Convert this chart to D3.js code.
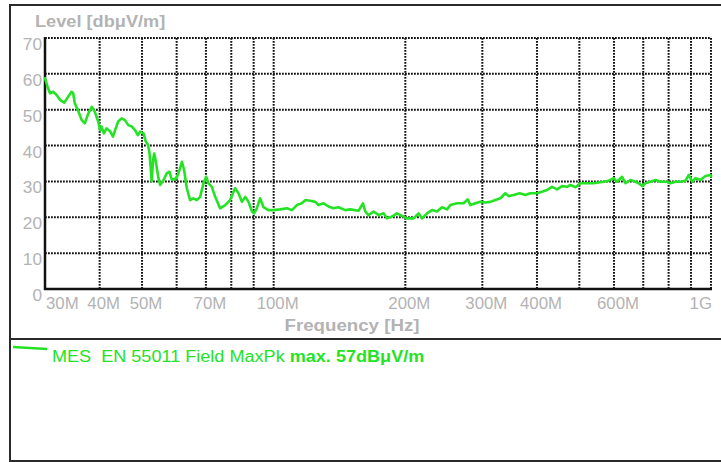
<!DOCTYPE html>
<html><head><meta charset="utf-8">
<script src="https://cdn.jsdelivr.net/npm/d3@7/dist/d3.min.js"></script>
<style>
html,body{margin:0;padding:0;background:#fff;}
svg{display:block;font-family:"Liberation Sans",Arial,Helvetica,sans-serif;}
</style></head>
<body>
<svg id="chart" width="721" height="462"></svg>
<script>
// ---- data ----
const freqMHz = [
 30.0,30.4,30.8,31.3,31.9,32.5,33.2,33.9,34.5,34.8,35.1,35.8,36.4,37.0,37.7,38.4,39.0,39.7,
 40.1,40.4,40.9,41.5,42.3,42.9,43.4,44.1,44.9,45.7,46.5,47.4,48.2,48.9,49.5,50.4,51.0,51.6,
 52.0,52.4,52.6,53.0,53.3,53.7,54.0,54.5,55.0,56.0,57.0,57.8,58.5,60.0,61.1,61.7,62.4,63.3,
 64.4,65.5,66.7,67.9,69.1,70.1,70.9,72.2,73.5,75.4,77.5,79.5,81.6,83.1,84.6,86.1,87.6,89.2,
 90.2,91.5,93.1,94.8,97.3,99.9,103.5,107.2,110.1,113.0,116.0,118.1,121.2,124.5,126.6,130.0,
 133.5,137.0,140.7,145.8,149.6,156.3,160.0,162.0,164.8,169.2,173.7,178.4,181.6,186.4,191.4,
 196.5,201.8,208.9,214.5,218.4,224.2,230.2,236.3,242.6,249.1,253.5,262.6,271.9,277.7,281.7,
 289.2,296.9,304.8,312.9,321.3,329.9,338.6,344.6,353.8,365.1,376.2,386.3,400.1,410.8,421.8,
 433.0,444.6,456.5,468.7,476.9,489.6,502.7,520.7,539.2,553.6,568.3,583.5,599.1,609.9,626.2,
 637.2,654.2,671.7,683.5,695.9,708.1,727.0,746.4,766.3,793.8,807.8,829.3,851.4,874.2,889.5,
 905.6,921.5,946.1,971.3,997.2,1000
];
const levelDb = [
 58.8,56.4,54.6,55.0,54.1,52.7,52.0,53.6,55.0,54.6,51.8,49.4,47.1,46.2,49.0,50.8,49.4,46.7,
 44.3,45.3,43.4,44.8,43.9,42.5,44.3,46.7,47.6,47.1,45.7,45.3,44.3,42.9,43.9,43.4,41.1,40.2,
 38.0,33.0,30.0,36.0,37.8,36.0,34.1,31.0,29.0,30.4,32.3,32.7,30.4,30.9,33.7,35.5,33.2,28.1,
 24.8,25.3,24.8,25.7,29.5,31.3,29.5,28.5,25.7,22.5,23.4,24.8,28.1,26.7,24.3,25.7,24.3,21.6,
 21.1,22.5,25.3,22.8,22.0,22.0,22.2,22.5,22.0,23.4,23.9,24.8,24.6,24.3,23.4,23.9,
 23.0,22.5,22.8,22.0,22.2,21.8,23.9,21.6,20.6,21.6,20.6,21.1,19.7,20.2,21.1,
 20.4,19.7,19.7,21.1,19.7,21.1,22.0,21.6,22.8,22.2,23.4,23.9,23.9,25.0,23.4,
 23.9,24.3,24.1,24.3,24.8,25.3,26.7,25.9,26.2,26.7,26.2,26.7,26.7,27.1,27.6,
 28.5,27.8,28.7,28.5,29.0,28.4,29.5,29.5,29.5,29.7,29.9,30.2,30.9,29.9,31.3,
 29.5,30.4,29.9,29.5,28.7,29.5,29.9,30.4,29.9,29.9,29.5,29.9,29.9,30.2,31.8,
 29.9,30.9,30.4,31.5,31.8,31.5
];
const yTicks = [0,10,20,30,40,50,60,70];
const xGridMHz = [30,40,50,60,70,80,90,100,200,300,400,500,600,700,800,900,1000];
const xLabelMHz = [30,40,50,70,100,200,300,400,600,1000];
const xLabelText = ["30M","40M","50M","70M","100M","200M","300M","400M","600M","1G"];
const yTitle = "Level [dbμV/m]";
const xTitle = "Frequency [Hz]";
const legendName = "MES  EN 55011 Field MaxPk ";
const legendMax = "max. 57dBμV/m";

// ---- layout ----
const svg = d3.select("#chart");
const L = 45, R = 711, T = 38, B = 289;
const x = d3.scaleLog().domain([30,1000]).range([L,R]);
const y = d3.scaleLinear().domain([0,70]).range([B,T]);
const green = "#24e324";
const grey = "#b3b3b3";
const place = (sx) => (d) => `translate(${d[0]},${d[1]}) scale(${sx},1)`;

// frame
svg.append("rect").attr("x",0).attr("y",0).attr("width",721).attr("height",462).attr("fill","#fff");
const frame = svg.append("g").attr("stroke","#2a2a2a").attr("stroke-width",2).attr("fill","none");
frame.append("line").attr("x1",10).attr("x2",721).attr("y1",5).attr("y2",5);
frame.append("line").attr("x1",10).attr("x2",10).attr("y1",4).attr("y2",462);
frame.append("line").attr("x1",10).attr("x2",721).attr("y1",339).attr("y2",339);
frame.append("line").attr("x1",10).attr("x2",721).attr("y1",461).attr("y2",461);

// grid
const grid = svg.append("g").attr("stroke","#111").attr("stroke-width",2)
  .attr("stroke-dasharray","1.8,1.2").attr("fill","none");
grid.selectAll("line.h").data(yTicks.filter(d=>d>0)).join("line")
  .attr("x1",L).attr("x2",R).attr("y1",d=>y(d)).attr("y2",d=>y(d));
grid.selectAll("line.v").data(xGridMHz.filter(d=>d>30)).join("line")
  .attr("x1",d=>x(d)).attr("x2",d=>x(d)).attr("y1",T).attr("y2",B);

// axes (solid)
svg.append("line").attr("x1",L).attr("x2",L).attr("y1",T-1).attr("y2",B+1)
  .attr("stroke","#111").attr("stroke-width",2.5);
svg.append("line").attr("x1",L-1).attr("x2",R+1).attr("y1",B).attr("y2",B)
  .attr("stroke","#111").attr("stroke-width",2.5);

// y labels
svg.append("g").selectAll("text").data(yTicks).join("text")
  .attr("transform",d=>place(1.08)([42,y(d)+12]))
  .attr("text-anchor","end")
  .attr("font-size",16).attr("fill",grey).text(d=>d);

// x labels
svg.append("g").selectAll("text").data(xLabelMHz).join("text")
  .attr("transform",(d,i)=>place(1.05)([i===0 ? x(d)+1 : (d===1000 ? x(d)+1 : x(d)+4), 309]))
  .attr("text-anchor",(d,i)=> i===0 ? "start" : (d===1000 ? "end" : "middle"))
  .attr("font-size",16).attr("fill",grey).text((d,i)=>xLabelText[i]);

// titles
svg.append("text").attr("transform",place(1.07)([35,27])).attr("font-size",17).attr("font-weight","bold")
  .attr("fill",grey).text(yTitle);
svg.append("text").attr("transform",place(1.1)([352,331])).attr("text-anchor","middle")
  .attr("font-size",17).attr("font-weight","bold").attr("fill",grey).text(xTitle);

// data line
const pts = freqMHz.map((f,i)=>[f,levelDb[i]]);
svg.append("path").datum(pts)
  .attr("d", d3.line().x(d=>x(d[0])).y(d=>y(d[1])))
  .attr("fill","none").attr("stroke",green).attr("stroke-width",2.6)
  .attr("stroke-linejoin","round").attr("stroke-linecap","round");

// legend
svg.append("line").attr("x1",13).attr("x2",47).attr("y1",347).attr("y2",349)
  .attr("stroke",green).attr("stroke-width",2.4);
const lt = svg.append("text").attr("transform",place(1.13)([52,362]))
  .attr("font-size",16).attr("fill",green).style("white-space","pre");
lt.append("tspan").text(legendName);
lt.append("tspan").attr("font-weight","bold").text(legendMax);
</script>
</body></html>
